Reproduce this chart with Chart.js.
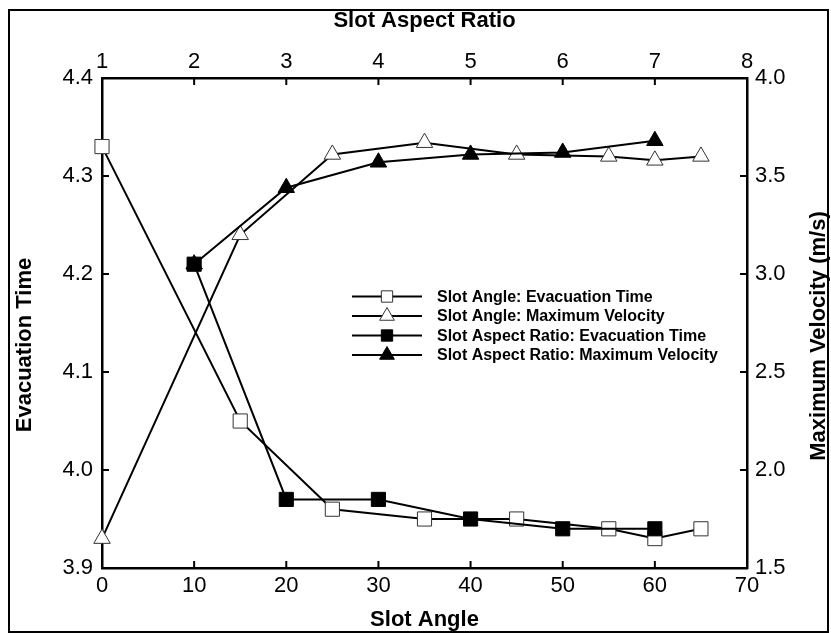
<!DOCTYPE html>
<html lang="en">
<head>
<meta charset="UTF-8">
<title>Slot Angle / Slot Aspect Ratio</title>
<script src="https://cdn.jsdelivr.net/npm/chart.js@4.4.0/dist/chart.umd.min.js"></script>
<style>
  html, body { margin: 0; padding: 0; background: #fff; }
  canvas { display: block; }
</style>
</head>
<body>
<canvas id="chart" width="831" height="633"></canvas>
<script>
// slot angle series (bottom axis)
const slotAngles = [0, 15, 25, 35, 45, 55, 60, 65];
const angleEvacTime = [4.33, 4.05, 3.96, 3.95, 3.95, 3.94, 3.93, 3.94];
const angleMaxVelocity = [1.65, 3.20, 3.61, 3.67, 3.61, 3.60, 3.58, 3.60];

// slot aspect ratio series (top axis)
const aspectRatios = [2, 3, 4, 5, 6, 7];
const ratioEvacTime = [4.21, 3.97, 3.97, 3.95, 3.94, 3.94];
const ratioMaxVelocity = [3.05, 3.44, 3.57, 3.61, 3.62, 3.68];

// tick labels
const angleTicks = [0, 10, 20, 30, 40, 50, 60, 70];
const ratioTicks = [1, 2, 3, 4, 5, 6, 7, 8];
const evacTicks = [3.9, 4.0, 4.1, 4.2, 4.3, 4.4];
const velocityTicks = [1.5, 2.0, 2.5, 3.0, 3.5, 4.0];

const FONT = '"Liberation Sans", Arial, sans-serif';
Chart.defaults.font.family = FONT;
Chart.defaults.color = '#000';

const pts = (xs, ys) => xs.map((x, i) => ({ x: x, y: ys[i] }));
const setTicks = list => scale => { scale.ticks = list.map(v => ({ value: v })); };

// outer frame + inward tick marks
const frame = {
  id: 'frame',
  beforeDraw(chart) {
    const ctx = chart.ctx;
    ctx.save();
    ctx.fillStyle = '#fff';
    ctx.fillRect(0, 0, chart.width, chart.height);
    ctx.strokeStyle = '#000';
    ctx.lineWidth = 2;
    ctx.strokeRect(9, 10, 819, 622);
    ctx.restore();
  },
  afterDraw(chart) {
    const ctx = chart.ctx, a = chart.chartArea, len = 7;
    ctx.save();
    ctx.strokeStyle = '#000';
    ctx.lineWidth = 2;
    Object.values(chart.scales).forEach(s => {
      s.ticks.forEach(t => {
        const p = s.getPixelForValue(t.value);
        ctx.beginPath();
        if (s.position === 'left') { ctx.moveTo(a.left, p); ctx.lineTo(a.left + len, p); }
        if (s.position === 'right') { ctx.moveTo(a.right, p); ctx.lineTo(a.right - len, p); }
        if (s.position === 'bottom') { ctx.moveTo(p, a.bottom); ctx.lineTo(p, a.bottom - len); }
        if (s.position === 'top') { ctx.moveTo(p, a.top); ctx.lineTo(p, a.top + len); }
        ctx.stroke();
      });
    });
    ctx.restore();
  }
};

// both vertical titles read bottom-to-top in the original
const sideTitles = {
  id: 'sideTitles',
  afterDraw(chart) {
    const ctx = chart.ctx, a = chart.chartArea;
    ctx.save();
    ctx.font = 'bold 22px ' + FONT;
    ctx.fillStyle = '#000';
    ctx.textAlign = 'center';
    ctx.textBaseline = 'middle';
    [['Evacuation Time', 25, a.top + 267],
     ['Maximum Velocity (m/s)', 819, a.top + 258]].forEach(([text, x, y]) => {
      ctx.save();
      ctx.translate(x, y);
      ctx.rotate(-Math.PI / 2);
      ctx.fillText(text, 0, 0);
      ctx.restore();
    });
    ctx.restore();
  }
};

// legend inside the plot
const insideLegend = {
  id: 'insideLegend',
  afterDraw(chart) {
    const ctx = chart.ctx, a = chart.chartArea;
    const x0 = a.left + 250, y0 = a.top + 218.5, gap = 19.5;
    ctx.save();
    chart.data.datasets.forEach((ds, i) => {
      const y = y0 + i * gap;
      ctx.strokeStyle = '#000';
      ctx.lineWidth = 2;
      ctx.beginPath();
      ctx.moveTo(x0, y);
      ctx.lineTo(x0 + 70, y);
      ctx.stroke();
      ctx.fillStyle = ds.pointBackgroundColor;
      ctx.strokeStyle = ds.pointBorderColor;
      ctx.lineWidth = 1;
      Chart.helpers.drawPoint(ctx, {
        pointStyle: ds.pointStyle,
        radius: ds.pointStyle === 'rect' ? 8 : 8.5,
        rotation: 0,
        borderWidth: 1
      }, x0 + 35, y);
      ctx.fillStyle = '#000';
      ctx.font = 'bold 16px ' + FONT;
      ctx.textBaseline = 'middle';
      ctx.textAlign = 'left';
      ctx.fillText(ds.label, x0 + 85, y + 1);
    });
    ctx.restore();
  }
};

const series = (label, data, style, filled, xAxis, yAxis, order) => ({
  label: label,
  data: data,
  xAxisID: xAxis,
  yAxisID: yAxis,
  order: order,
  borderColor: '#000',
  borderWidth: 2,
  pointStyle: style,
  pointRadius: style === 'rect' ? 10 : 9.5,
  pointBackgroundColor: filled ? '#000' : '#fff',
  pointBorderColor: filled ? '#000' : '#333',
  pointBorderWidth: 1,
  tension: 0,
  clip: false
});

const axisBase = {
  type: 'linear',
  grid: { display: false, drawTicks: false },
  border: { display: true, color: '#000', width: 2.5 },
  ticks: { font: { size: 22 }, autoSkip: false, maxRotation: 0 }
};
const title = (text, padding) => ({
  display: true, text: text, font: { size: 22, weight: 'bold' }, padding: padding
});

new Chart(document.getElementById('chart'), {
  type: 'line',
  data: {
    datasets: [
      series('Slot Angle: Evacuation Time', pts(slotAngles, angleEvacTime), 'rect', false, 'x', 'y', 2),
      series('Slot Angle: Maximum Velocity', pts(slotAngles, angleMaxVelocity), 'triangle', false, 'x', 'y2', 3),
      series('Slot Aspect Ratio: Evacuation Time', pts(aspectRatios, ratioEvacTime), 'rect', true, 'x2', 'y', 0),
      series('Slot Aspect Ratio: Maximum Velocity', pts(aspectRatios, ratioMaxVelocity), 'triangle', true, 'x2', 'y2', 1)
    ]
  },
  options: {
    responsive: false,
    animation: false,
    layout: { padding: 0 },
    plugins: { legend: { display: false }, tooltip: { enabled: false } },
    scales: {
      x: { ...axisBase, position: 'bottom',
        min: angleTicks[0], max: angleTicks[angleTicks.length - 1],
        ticks: { ...axisBase.ticks, padding: 5 },
        afterBuildTicks: setTicks(angleTicks),
        afterFit: s => { s.height = 65; },
        title: title('Slot Angle', { top: 0, bottom: 0 }) },
      x2: { ...axisBase, position: 'top',
        min: ratioTicks[0], max: ratioTicks[ratioTicks.length - 1],
        ticks: { ...axisBase.ticks, padding: 3 },
        afterBuildTicks: setTicks(ratioTicks),
        afterFit: s => { s.height = 78; },
        title: title('Slot Aspect Ratio', { top: 8, bottom: 0 }) },
      y: { ...axisBase, position: 'left',
        min: evacTicks[0], max: evacTicks[evacTicks.length - 1],
        ticks: { ...axisBase.ticks, padding: 9, callback: v => v.toFixed(1) },
        afterBuildTicks: setTicks(evacTicks),
        afterFit: s => { s.width = 102; } },
      y2: { ...axisBase, position: 'right',
        min: velocityTicks[0], max: velocityTicks[velocityTicks.length - 1],
        ticks: { ...axisBase.ticks, padding: 8, callback: v => v.toFixed(1) },
        afterBuildTicks: setTicks(velocityTicks),
        afterFit: s => { s.width = 84; } }
    }
  },
  plugins: [frame, insideLegend, sideTitles]
});
</script>
</body>
</html>
